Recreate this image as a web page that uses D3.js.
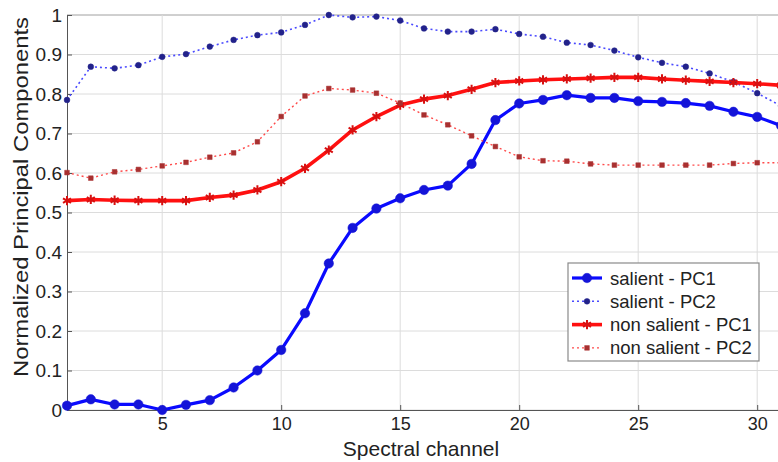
<!DOCTYPE html>
<html>
<head>
<meta charset="utf-8">
<script src="https://cdn.jsdelivr.net/npm/d3@7"></script>
<style>
  body { margin: 0; background: #fff; }
  svg { display: block; font-family: "Liberation Sans", Arial, sans-serif; }
</style>
</head>
<body>
<script>
// Chart size and plot box (the reference is cropped just before the right border).
const width = 778;
const height = 462;
const marginTop = 15;
const marginLeft = 67;
const plotRight = 781;
const plotBottom = 410;

// Data: spectral channels 1..31
const channels = d3.range(1, 32);
const salientPC1 = [0.011, 0.027, 0.014, 0.014, 0.0, 0.013, 0.025, 0.057, 0.1, 0.152,
  0.245, 0.371, 0.461, 0.51, 0.536, 0.557, 0.568, 0.623, 0.734, 0.776,
  0.785, 0.797, 0.79, 0.79, 0.782, 0.78, 0.777, 0.77, 0.755, 0.742, 0.72];
const salientPC2 = [0.785, 0.869, 0.865, 0.873, 0.894, 0.901, 0.92, 0.937, 0.949, 0.956,
  0.975, 1.0, 0.994, 0.996, 0.986, 0.966, 0.958, 0.958, 0.964, 0.952,
  0.945, 0.93, 0.924, 0.91, 0.893, 0.879, 0.869, 0.852, 0.831, 0.802, 0.77];
const nonSalientPC1 = [0.53, 0.533, 0.531, 0.53, 0.53, 0.53, 0.538, 0.544, 0.557, 0.578,
  0.612, 0.658, 0.709, 0.743, 0.772, 0.787, 0.796, 0.812, 0.829, 0.833,
  0.836, 0.838, 0.84, 0.842, 0.842, 0.838, 0.835, 0.832, 0.829, 0.826, 0.822];
const nonSalientPC2 = [0.601, 0.587, 0.603, 0.609, 0.618, 0.627, 0.64, 0.651, 0.679, 0.743,
  0.795, 0.814, 0.81, 0.802, 0.777, 0.747, 0.722, 0.694, 0.667, 0.641,
  0.631, 0.63, 0.623, 0.62, 0.62, 0.62, 0.62, 0.62, 0.624, 0.626, 0.626];

const xTicks = [5, 10, 15, 20, 25, 30];
const yTicks = [0, 0.1, 0.2, 0.3, 0.4, 0.5, 0.6, 0.7, 0.8, 0.9, 1];
const legendLabels = ["salient - PC1", "salient - PC2", "non salient - PC1", "non salient - PC2"];

const x = d3.scaleLinear([1, 31], [marginLeft, plotRight]);
const y = d3.scaleLinear([0, 1], [plotBottom, marginTop]);

const svg = d3.select("body").append("svg")
  .attr("width", width)
  .attr("height", height)
  .attr("viewBox", [0, 0, width, height]);

// Grid lines
svg.append("g")
  .selectAll("line")
  .data(yTicks)
  .join("line")
  .attr("x1", marginLeft).attr("x2", plotRight)
  .attr("y1", d => y(d)).attr("y2", d => y(d))
  .attr("stroke", d => d === 1 ? "#a0a0a0" : "#dcdcdc")
  .attr("stroke-width", 1);

svg.append("g")
  .selectAll("line")
  .data(xTicks)
  .join("line")
  .attr("x1", d => x(d)).attr("x2", d => x(d))
  .attr("y1", marginTop).attr("y2", plotBottom)
  .attr("stroke", "#dcdcdc")
  .attr("stroke-width", 1);

// Axes
svg.append("g")
  .attr("transform", `translate(0,${plotBottom})`)
  .call(d3.axisBottom(x).tickValues(xTicks).tickSize(-5).tickPadding(7).tickSizeOuter(0))
  .call(g => g.select(".domain").attr("stroke", "#555"))
  .call(g => g.selectAll(".tick line").attr("stroke", "#555"))
  .call(g => g.selectAll("text").attr("font-size", 18).attr("fill", "#222")
    .attr("font-family", "'Liberation Sans', Arial, sans-serif"));

svg.append("g")
  .attr("transform", `translate(${marginLeft},0)`)
  .call(d3.axisLeft(y).tickValues(yTicks).tickFormat(d3.format("~g")).tickSize(-5).tickPadding(5).tickSizeOuter(0))
  .call(g => g.select(".domain").attr("stroke", "#555"))
  .call(g => g.selectAll(".tick line").attr("stroke", "#555"))
  .call(g => g.selectAll("text").attr("font-size", 19).attr("fill", "#222")
    .attr("font-family", "'Liberation Sans', Arial, sans-serif"));

// Axis labels
svg.append("text")
  .attr("x", 421).attr("y", 456)
  .attr("text-anchor", "middle")
  .attr("font-size", 21)
  .attr("fill", "#222")
  .text("Spectral channel");

svg.append("text")
  .attr("transform", "translate(28,197) rotate(-90)")
  .attr("text-anchor", "middle")
  .attr("font-size", 21)
  .attr("fill", "#222")
  .attr("textLength", 360)
  .attr("lengthAdjust", "spacingAndGlyphs")
  .text("Normalized Principal Components");

// Series
const series = [
  { name: legendLabels[0], values: salientPC1, color: "#0a0aff", width: 3.2, dash: null,
    marker: "circle", mfill: "#1414d8", msize: 70 },
  { name: legendLabels[1], values: salientPC2, color: "#4a4aff", width: 1.6, dash: "2,3",
    marker: "circle", mfill: "#22228a", msize: 26 },
  { name: legendLabels[2], values: nonSalientPC1, color: "#ff1010", width: 3.6, dash: null,
    marker: "asterisk", mfill: "#d81010", msize: 60 },
  { name: legendLabels[3], values: nonSalientPC2, color: "#ff4a4a", width: 1.4, dash: "2,3",
    marker: "square", mfill: "#a83030", msize: 22 },
];

const line = d3.line()
  .x((d, i) => x(channels[i]))
  .y(d => y(d));

const symbolType = { circle: d3.symbolCircle, asterisk: d3.symbolAsterisk, square: d3.symbolSquare };

function drawMarker(sel, s) {
  const sym = d3.symbol(symbolType[s.marker], s.msize);
  sel.append("path")
    .attr("d", sym())
    .attr("fill", s.marker === "asterisk" ? "none" : s.mfill)
    .attr("stroke", s.mfill)
    .attr("stroke-width", s.marker === "asterisk" ? 2 : 0.5);
}

const plot = svg.append("g");
for (const s of series) {
  plot.append("path")
    .attr("fill", "none")
    .attr("stroke", s.color)
    .attr("stroke-width", s.width)
    .attr("stroke-linejoin", "round")
    .attr("stroke-dasharray", s.dash)
    .attr("d", line(s.values));
}
// markers drawn after all lines
for (const s of series) {
  const g = plot.append("g");
  g.selectAll("g")
    .data(s.values)
    .join("g")
    .attr("transform", (d, i) => `translate(${x(channels[i])},${y(d)})`)
    .each(function () { drawMarker(d3.select(this), s); });
}

// Legend
const legend = svg.append("g").attr("transform", "translate(568,263)");
legend.append("rect")
  .attr("width", 191).attr("height", 98)
  .attr("fill", "#fff")
  .attr("stroke", "#8a8a8a")
  .attr("stroke-width", 1.2);

series.forEach((s, i) => {
  const row = legend.append("g").attr("transform", `translate(0,${15 + i * 23.3})`);
  row.append("line")
    .attr("x1", 4).attr("x2", 34)
    .attr("stroke", s.color)
    .attr("stroke-width", s.width)
    .attr("stroke-dasharray", s.dash);
  drawMarker(row.append("g").attr("transform", "translate(19,0)"), s);
  row.append("text")
    .attr("x", 42).attr("y", 6.5)
    .attr("font-size", 18.5)
    .attr("fill", "#222")
    .text(s.name);
});
</script>
</body>
</html>
